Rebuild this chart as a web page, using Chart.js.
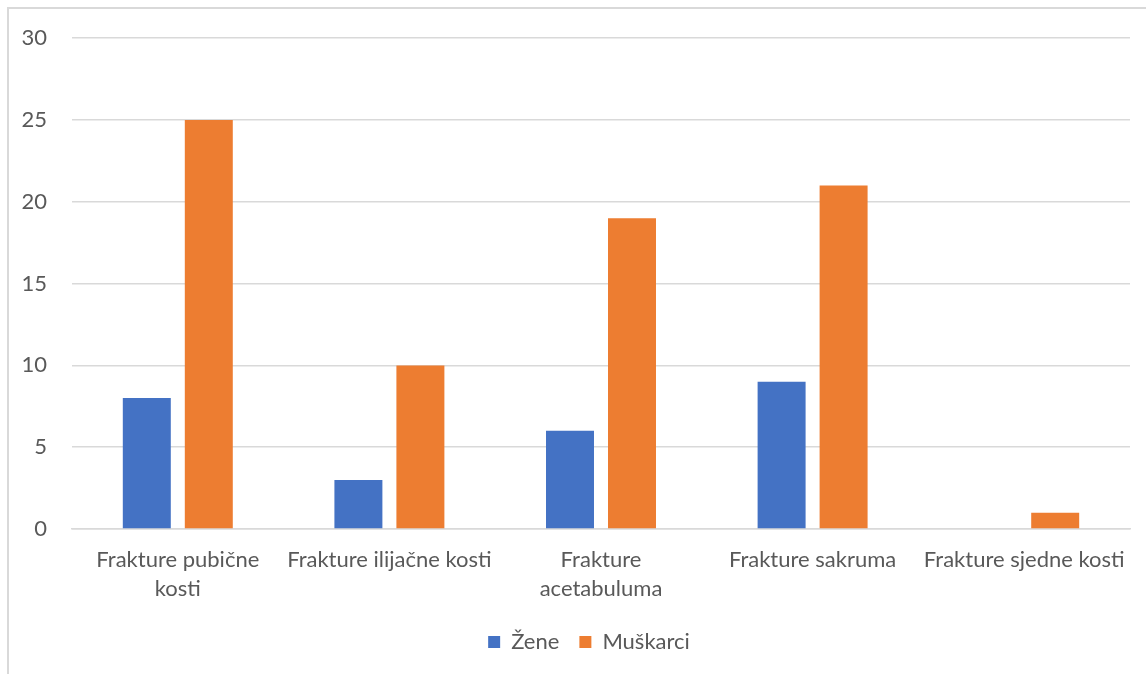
<!DOCTYPE html>
<html>
<head>
<meta charset="utf-8">
<script src="https://cdn.jsdelivr.net/npm/chart.js@4"></script>
<style>
  html, body { margin: 0; padding: 0; background: #fff; overflow: hidden; }
  #wrap { position: relative; width: 1146px; height: 674px; }
  #frame { position: absolute; left: 7px; top: 7px; width: 1160px; height: 690px; border: 2px solid #d9d9d9; box-sizing: border-box; pointer-events: none; }
  canvas { position: absolute; left: 0; top: 0; }
</style>
</head>
<body>
<div id="wrap">
  <div id="frame"></div>
  <canvas id="fractureChart" width="1146" height="674"></canvas>
</div>
<script>
// Categories (wrapped as in the original)
const categories = [
  ['Frakture pubične', 'kosti'],
  'Frakture ilijačne kosti',
  ['Frakture', 'acetabuluma'],
  'Frakture sakruma',
  'Frakture sjedne kosti'
];
const zene = [8, 3, 6, 9, 0];
const muskarci = [25, 10, 19, 21, 1];
const seriesNames = ['Žene', 'Muškarci'];

const textColor = '#595959';
const gridColor = '#d9d9d9';
const fontFamily = 'Lato, "Open Sans", sans-serif';

// nudge the legend a bit right, where the original has it
const legendShift = {
  id: 'legendShift',
  afterLayout(chart) {
    chart.legend.left += 24;
    chart.legend.right += 24;
  }
};

function createChart(ctx) {
  return new Chart(ctx, {
    type: 'bar',
    data: {
      labels: categories,
      datasets: [
        { label: seriesNames[0], data: zene, backgroundColor: '#4472C4' },
        { label: seriesNames[1], data: muskarci, backgroundColor: '#ED7D31' }
      ]
    },
    options: {
      responsive: false,
      animation: false,
      categoryPercentage: 0.586,
      barPercentage: 0.774,
      layout: { padding: { left: 0, right: 16, top: 26, bottom: 11 } },
      plugins: {
        tooltip: { enabled: false },
        legend: {
          position: 'bottom',
          labels: {
            color: textColor,
            font: { family: fontFamily, size: 22 },
            boxWidth: 12,
            boxHeight: 12,
            padding: 20
          }
        }
      },
      scales: {
        x: {
          grid: { display: false, drawTicks: false },
          border: { color: gridColor, width: 1.5 },
          ticks: {
            color: textColor,
            font: { family: fontFamily, size: 22, lineHeight: 1.3 },
            padding: 17,
            maxRotation: 0,
            autoSkip: false
          },
          afterFit: scale => { scale.height = 82; }
        },
        y: {
          min: 0,
          max: 30,
          grid: { color: gridColor, lineWidth: 1.5, drawTicks: false },
          border: { display: false },
          ticks: {
            stepSize: 5,
            color: textColor,
            font: { family: fontFamily, size: 22 },
            padding: 25
          },
          afterFit: scale => { scale.width = 72; }
        }
      }
    },
    plugins: [legendShift]
  });
}

createChart(document.getElementById('fractureChart').getContext('2d'));
</script>
</body>
</html>
